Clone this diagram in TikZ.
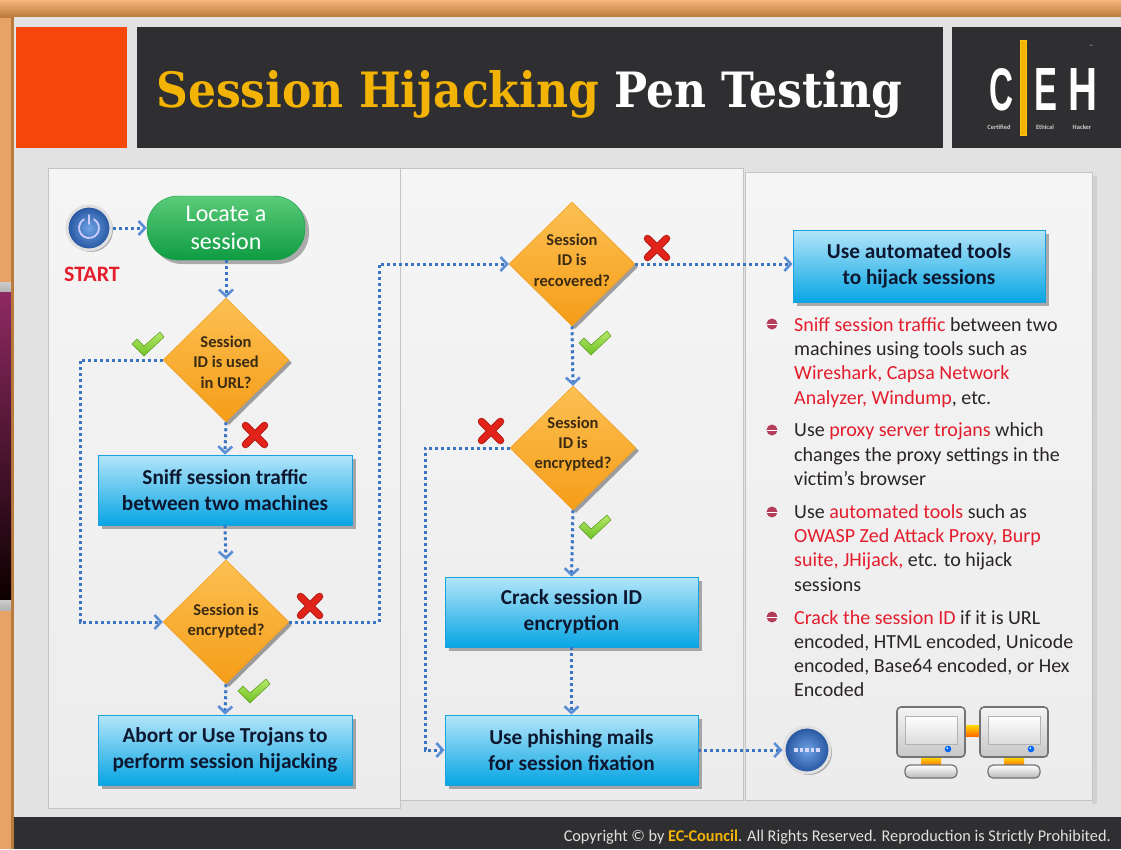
\documentclass[tikz,border=0pt]{standalone}
\usepackage{fontspec}
\usepackage{graphicx}
\setmainfont{Carlito}
\newfontfamily\slabfont{DejaVu Serif}
\newfontfamily\logofont{Liberation Sans}
\usetikzlibrary{shapes.geometric,arrows.meta,shadows}

\definecolor{bandorange}{HTML}{F2A55B}
\definecolor{banddark}{HTML}{B97A3C}
\definecolor{slidegray}{HTML}{E2E2E2}
\definecolor{paneltop}{HTML}{F5F5F5}
\definecolor{panelbottom}{HTML}{ECECEC}
\definecolor{panelline}{HTML}{C4C4C4}
\definecolor{barblack}{HTML}{2F2E30}
\definecolor{squarered}{HTML}{F6470B}
\definecolor{titlegold}{HTML}{F2B304}
\definecolor{boxtop}{HTML}{B4E5F9}
\definecolor{boxbottom}{HTML}{07A5E4}
\definecolor{boxline}{HTML}{19A2DC}
\definecolor{boxink}{HTML}{0D1830}
\definecolor{diamtop}{HTML}{FCC052}
\definecolor{diambottom}{HTML}{F59D18}
\definecolor{diamink}{HTML}{3B2B12}
\definecolor{pilltop}{HTML}{5BCB78}
\definecolor{pillbottom}{HTML}{0E9C43}
\definecolor{flowblue}{HTML}{3A74C2}
\definecolor{tipblue}{HTML}{5A8ED4}
\definecolor{okgreen}{HTML}{6FC224}
\definecolor{oklight}{HTML}{B6E86A}
\definecolor{nored}{HTML}{E2231A}
\definecolor{hired}{HTML}{E41D2D}
\definecolor{bodyink}{HTML}{2A2426}
\definecolor{bulletred}{HTML}{B23E5A}
\definecolor{strip}{HTML}{E6A365}
\definecolor{buttoninner}{HTML}{6EA2E4}
\definecolor{buttonouter}{HTML}{24539E}
\definecolor{maroon}{HTML}{8E2A62}

\newcommand{\redtxt}[1]{\textcolor{hired}{#1}}

\tikzset{
  flow/.style={draw=flowblue, line width=3pt, dash pattern=on 3pt off 3pt,
    -{Straight Barb[length=6.5pt,width=14pt,line width=2.6pt,color=tipblue]}},
  softshadow/.style={drop shadow={shadow xshift=4pt,shadow yshift=-4pt,opacity=.3,fill=black}},
  actbox/.style={rectangle, draw=boxline, line width=0.8pt, top color=boxtop,
    bottom color=boxbottom, minimum width=254pt, minimum height=70pt, align=center,
    text=boxink, font=\bfseries\fontsize{21.3}{26}\selectfont, softshadow},
  decision/.style={diamond, inner sep=0pt, minimum width=126pt, minimum height=124pt,
    top color=diamtop, bottom color=diambottom, draw=diambottom, line width=0.5pt,
    drop shadow={shadow xshift=3pt,shadow yshift=-3pt,opacity=.35,fill=black}},
  dtext/.style={align=center, text=diamink, inner sep=0pt,
    font=\bfseries\fontsize{16.5}{20.3}\selectfont},
  pill/.style={rectangle, rounded corners=31pt, minimum width=158pt, minimum height=64pt,
    top color=pilltop, bottom color=pillbottom, draw=pillbottom, text=white, align=center,
    font=\fontsize{24}{28.5}\selectfont, softshadow},
  button/.style={circle, inner sep=0pt, inner color=buttoninner, outer color=buttonouter,
    draw=black!12, line width=3pt,
    drop shadow={shadow xshift=2pt,shadow yshift=-2pt,opacity=.3,fill=black}},
  bodyline/.style={anchor=base west, inner sep=0pt, text=bodyink,
    font=\fontsize{20}{24.2}\selectfont},
  bulletmark/.pic={\fill[bulletred] (0,0) circle (5.5);
    \draw[white, line width=1.1pt] (-5.5,0.8) -- (5.5,0.8);},
  okmark/.pic={\shade[top color=oklight, bottom color=okgreen, draw=okgreen!80!black, line width=0.5pt]
    (-16,-1) -- (-11,-6) -- (-4,1) -- (12,-13) -- (16,-8) -- (-4,11) -- cycle;},
  nomark/.pic={\draw[nored!80!black, line width=7.5pt, line cap=round] (-9.5,-9.5) -- (9.5,9.5) (-9.5,9.5) -- (9.5,-9.5);
    \draw[nored, line width=5.5pt, line cap=round] (-9.5,-9.5) -- (9.5,9.5) (-9.5,9.5) -- (9.5,-9.5);},
  monitor/.pic={
    \shade[top color=yellow!80!orange, bottom color=orange!90!red] (-10,24) rectangle (10,34);
    \draw[draw=black!55, line width=1.2pt, top color=white, bottom color=black!28, rounded corners=5pt]
      (-26,33) rectangle (26,46);
    \draw[draw=black!55, line width=1.6pt, top color=black!4, bottom color=black!22, rounded corners=4pt]
      (-34,-25) rectangle (34,25);
    \draw[draw=black!30, line width=0.8pt, top color=white, bottom color=black!14]
      (-26,-16) rectangle (26,12);
    \fill[blue!60!cyan] (17,17) circle (3.3);
    \fill[white] (16.2,16.2) circle (1);
  },
}

\begin{document}
\begin{tikzpicture}[x=1pt,y=-1pt]
\useasboundingbox (0,0) rectangle (1121,849);

% frame of the slide
\fill[strip] (0,0) rectangle (1121,849);
\shade[top color=bandorange!80!white, bottom color=banddark] (0,0) rectangle (1121,17);
\fill[banddark] (11,17) rectangle (14,849);
\fill[slidegray] (14,17) rectangle (1121,818);
\shade[top color=black!20, bottom color=black!30] (0,282) rectangle (11,292);
\shade[top color=maroon, bottom color=black!95!red] (0,292) rectangle (11,600);
\shade[top color=black!20, bottom color=black!30] (0,600) rectangle (11,610);

% title row
\fill[squarered] (16,27) rectangle (127,148);
\fill[barblack] (137,27) rectangle (943,148);
\node[anchor=base west, inner sep=0pt] (title) at (156,107)
  {\resizebox{746pt}{37pt}{\slabfont\bfseries\textcolor{titlegold}{Session Hijacking} \textcolor{white}{Pen Testing}}};

% logo
\fill[barblack] (952,27) rectangle (1121,148);
\node[anchor=base west, inner sep=0pt, text=white] (logoC) at (989,110)
  {\resizebox{24pt}{42pt}{\logofont\bfseries C}};
\node[anchor=base west, inner sep=0pt, text=white] (logoE) at (1034,110)
  {\resizebox{23pt}{42pt}{\logofont\bfseries E}};
\node[anchor=base west, inner sep=0pt, text=white] (logoH) at (1068,110)
  {\resizebox{29pt}{42pt}{\logofont\bfseries H}};
\fill[titlegold, draw=yellow!60!orange] (1020,40) rectangle (1026,135);
\node[text=white!80!black, font=\bfseries\fontsize{6.5}{7}\selectfont, inner sep=0pt] (logoa) at (999,127) {Certified};
\node[text=white!80!black, font=\bfseries\fontsize{6.5}{7}\selectfont, inner sep=0pt] (logob) at (1045,127) {Ethical};
\node[text=white!80!black, font=\bfseries\fontsize{6.5}{7}\selectfont, inner sep=0pt] (logoc) at (1082,127) {Hacker};
\node[text=white!70!black, font=\fontsize{5}{6}\selectfont, inner sep=0pt] (logotm) at (1091,47) {\texttrademark};

% panels
\shade[top color=paneltop, bottom color=panelbottom, draw=panelline, line width=1pt]
  (48,168) rectangle (400,808);
\shade[top color=paneltop, bottom color=panelbottom, draw=panelline, line width=1pt]
  (400,168) rectangle (743,800);
\fill[black!18] (1092,176) rectangle (1097,804);
\shade[top color=paneltop, bottom color=panelbottom, draw=panelline, line width=1pt]
  (745,172) rectangle (1092,800);

% footer
\fill[barblack] (14,817) rectangle (1121,849);
\node[anchor=base east, inner sep=0pt] (copyright) at (1111,841)
  {\resizebox{547pt}{11.5pt}{\color{white!88!black}Copyright \textcopyright{} by \textcolor{titlegold}{\bfseries EC-Council}. All Rights Reserved. Reproduction is Strictly Prohibited.}};

% start and end buttons
\node[button, minimum size=44pt] (start) at (89,228) {};
\draw[white!80!blue, line width=1.8pt, line cap=round]
  (start.center) ++(-60:10) arc[start angle=-60, end angle=240, radius=10];
\draw[white!80!blue, line width=1.8pt, line cap=round] (start.center) ++(0,-13) -- ++(0,9);
\node[text=hired, font=\bfseries\fontsize{22}{24}\selectfont, inner sep=0pt] (startlabel) at (92,274) {START};

\node[button, minimum size=46pt] (finish) at (807,750) {};
\foreach \k in {-2,...,2}
  \fill[white!85!blue] (807+5.5*\k-1.6,748.4) rectangle ++(3.2,3.2);

% flowchart nodes
\node[pill] (locate) at (226,228) {Locate a\\session};

\node[decision] (d1) at (226,360) {};
\node[dtext] (d1t) at (226,362) {Session\\ID is used\\in URL?};
\node[actbox] (sniff) at (225,490) {Sniff session traffic\\between two machines};
\node[decision] (d2) at (226,622) {};
\node[dtext] (d2t) at (226,621) {Session is\\encrypted?};
\node[actbox] (abort) at (225,750) {Abort or Use Trojans to\\perform session hijacking};

\node[decision] (d3) at (572,264) {};
\node[dtext] (d3t) at (572,260) {Session\\ID is\\recovered?};
\node[decision] (d4) at (573,448) {};
\node[dtext] (d4t) at (573,444) {Session\\ID is\\encrypted?};
\node[actbox, minimum width=253pt] (crack) at (571.5,612) {Crack session ID\\encryption};
\node[actbox, minimum width=253pt] (phish) at (571.5,750) {Use phishing mails\\for session fixation};

\node[actbox, minimum width=252pt, minimum height=72pt] (auto) at (919,266) {Use automated tools\\to hijack sessions};

% rails for the loops
\coordinate (railL) at (80,0);
\coordinate (railR) at (379,0);
\coordinate (railM) at (425,0);

% connectors
\draw[flow] (start.east) -- (locate.west);
\draw[flow] (locate.south) -- (d1.north);
\draw[flow] (d1.west) -- (railL |- d1.west) -- (railL |- d2.west) -- (d2.west);
\draw[flow] (d1.south) -- (sniff.north);
\draw[flow] (sniff.south) -- (d2.north);
\draw[flow] (d2.east) -- (railR |- d2.east) -- (railR |- d3.west) -- (d3.west);
\draw[flow] (d2.south) -- (abort.north);
\draw[flow] (d3.east) -- (d3.east -| auto.west);
\draw[flow] (d3.south) -- (d4.north);
\draw[flow] (d4.west) -- (railM |- d4.west) -- (railM |- phish.west) -- (phish.west);
\draw[flow] (d4.south) -- (crack.north);
\draw[flow] (crack.south) -- (phish.north);
\draw[flow] (phish.east) -- (finish.west);

% yes / no marks
\pic at (148,345) {okmark};
\pic at (255,435) {nomark};
\pic at (310,606) {nomark};
\pic at (254,692) {okmark};
\pic at (657,248) {nomark};
\pic at (595,344) {okmark};
\pic at (491,431) {nomark};
\pic at (595,528) {okmark};

% bullet list
\pic at (772,324) {bulletmark};
\node[bodyline] (b1a) at (794,331.5) {\redtxt{Sniff session traffic} between two};
\node[bodyline] (b1b) at (794,355.7) {machines using tools such as};
\node[bodyline] (b1c) at (794,379.9) {\redtxt{Wireshark, Capsa Network}};
\node[bodyline] (b1d) at (794,404.1) {\redtxt{Analyzer, Windump}, etc.};

\pic at (772,430) {bulletmark};
\node[bodyline] (b2a) at (794,436.8) {Use \redtxt{proxy server trojans} which};
\node[bodyline] (b2b) at (794,461.0) {changes the proxy settings in the};
\node[bodyline] (b2c) at (794,485.2) {victim’s browser};

\pic at (772,512) {bulletmark};
\node[bodyline] (b3a) at (794,518.4) {Use \redtxt{automated tools} such as};
\node[bodyline] (b3b) at (794,542.6) {\redtxt{OWASP Zed Attack Proxy, Burp}};
\node[bodyline] (b3c) at (794,566.8) {\redtxt{suite, JHijack,} etc. to hijack};
\node[bodyline] (b3d) at (794,591.0) {sessions};

\pic at (772,617) {bulletmark};
\node[bodyline] (b4a) at (794,624.2) {\redtxt{Crack the session ID} if it is URL};
\node[bodyline] (b4b) at (794,648.4) {encoded, HTML encoded, Unicode};
\node[bodyline] (b4c) at (794,672.6) {encoded, Base64 encoded, or Hex};
\node[bodyline] (b4d) at (794,696.8) {Encoded};

% two linked computers
\shade[top color=yellow!70!orange, bottom color=orange!85!red] (964,725) rectangle (982,736);
\pic at (931,732) {monitor};
\pic at (1014,732) {monitor};
\end{tikzpicture}
\end{document}
